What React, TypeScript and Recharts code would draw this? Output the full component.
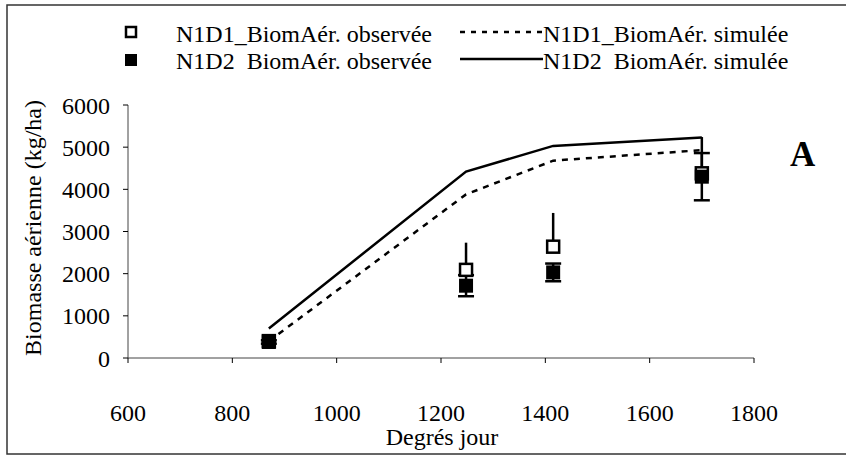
import React from 'react';
import { ComposedChart, Line, Scatter, XAxis, YAxis, ErrorBar } from 'recharts';

const simX = [870, 1248, 1415, 1700];
const n1d1Sim = [400, 3880, 4680, 4930];
const n1d2Sim = [700, 4420, 5030, 5230];

const obsX = [870, 1248, 1415, 1700];
const n1d1Obs = [400, 2090, 2640, 4380];
const n1d1ErrUp = [0, 645, 800, 860];
const n1d2Obs = [380, 1715, 2030, 4300];
const n1d2Err = [40, 250, 210, 560];

const xTicks = [600, 800, 1000, 1200, 1400, 1600, 1800];
const yTicks = [0, 1000, 2000, 3000, 4000, 5000, 6000];

const legendLabels = [
  'N1D1_BiomAér. observée',
  'N1D1_BiomAér. simulée',
  'N1D2\u00a0 BiomAér. observée',
  'N1D2\u00a0 BiomAér. simulée',
];
const xTitle = 'Degrés jour';
const yTitle = 'Biomasse aérienne (kg/ha)';
const panelLabel = 'A';

const sim1Data = simX.map((x, i) => ({ x, y: n1d1Sim[i] }));
const sim2Data = simX.map((x, i) => ({ x, y: n1d2Sim[i] }));
const obs1Data = obsX.map((x, i) => ({ x, y: n1d1Obs[i], err: [0, n1d1ErrUp[i]] }));
const obs2Data = obsX.map((x, i) => ({ x, y: n1d2Obs[i], err: n1d2Err[i] }));

const FONT = 'Liberation Serif';

const OpenSquare = (props: any) => (
  <rect x={props.cx - 6} y={props.cy - 6} width={12} height={12} fill="#fff" stroke="#000" strokeWidth={2.5} />
);
const FilledSquare = (props: any) => (
  <rect x={props.cx - 7} y={props.cy - 7} width={14} height={14} fill="#000" stroke="none" />
);

export default function App() {
  const tickStyle = { fontSize: 24, fill: '#000', fontFamily: FONT };
  return (
    <div style={{ position: 'absolute', left: 0, top: 0, width: 846, height: 455, background: '#fff' }}>
      <div style={{ position: 'absolute', left: 0, top: 0 }}>
        <ComposedChart width={846} height={455} margin={{ top: 105, right: 92, bottom: 37, left: 68 }}>
          <XAxis
            type="number"
            dataKey="x"
            domain={[600, 1800]}
            ticks={xTicks}
            tick={tickStyle}
            tickSize={5}
            tickMargin={41}
            height={60}
            stroke="#444"
            tickLine={{ stroke: '#000' }}
            allowDataOverflow
          />
          <YAxis
            type="number"
            domain={[0, 6000]}
            ticks={yTicks}
            tick={tickStyle}
            tickSize={5}
            tickMargin={13}
            width={60}
            stroke="#444"
            tickLine={{ stroke: '#000' }}
            allowDataOverflow
          />
          <Line data={sim1Data} dataKey="y" type="linear" stroke="#000" strokeWidth={2.5} strokeDasharray="6 6" dot={false} activeDot={false} isAnimationActive={false} />
          <Line data={sim2Data} dataKey="y" type="linear" stroke="#000" strokeWidth={2.5} dot={false} activeDot={false} isAnimationActive={false} />
          <Scatter data={obs1Data} dataKey="y" shape={OpenSquare} isAnimationActive={false}>
            <ErrorBar dataKey="err" direction="y" width={0} stroke="#000" strokeWidth={2.5} />
          </Scatter>
          <Scatter data={obs2Data} dataKey="y" shape={FilledSquare} isAnimationActive={false}>
            <ErrorBar dataKey="err" direction="y" width={8} stroke="#000" strokeWidth={2.5} />
          </Scatter>
        </ComposedChart>
      </div>
      <svg width={846} height={455} style={{ position: 'absolute', left: 0, top: 0, pointerEvents: 'none' }}>
        <rect x={7} y={5} width={850} height={449} fill="none" stroke="#333" strokeWidth={1.5} />
        <rect x={126} y={27} width={10} height={10} fill="#fff" stroke="#000" strokeWidth={2.5} />
        <text x={176} y={42} fontSize={24} fontFamily={FONT} fill="#000">{legendLabels[0]}</text>
        <line x1={460} y1={32} x2={543} y2={32} stroke="#000" strokeWidth={2.5} strokeDasharray="5 6" />
        <text x={543} y={42} fontSize={24} fontFamily={FONT} fill="#000">{legendLabels[1]}</text>
        <rect x={125} y={54} width={12} height={12} fill="#000" />
        <text x={176} y={69} fontSize={24} fontFamily={FONT} fill="#000">{legendLabels[2]}</text>
        <line x1={460} y1={59} x2={543} y2={59} stroke="#000" strokeWidth={2.5} />
        <text x={543} y={69} fontSize={24} fontFamily={FONT} fill="#000">{legendLabels[3]}</text>
        <text x={790} y={166} fontSize={35} fontWeight="bold" fontFamily={FONT} fill="#000">{panelLabel}</text>
        <text x={442} y={445} fontSize={24} fontFamily={FONT} fill="#000" textAnchor="middle">{xTitle}</text>
        <text x={0} y={0} fontSize={24} fontFamily={FONT} fill="#000" textAnchor="middle" transform="translate(41 228) rotate(-90)">{yTitle}</text>
      </svg>
    </div>
  );
}
